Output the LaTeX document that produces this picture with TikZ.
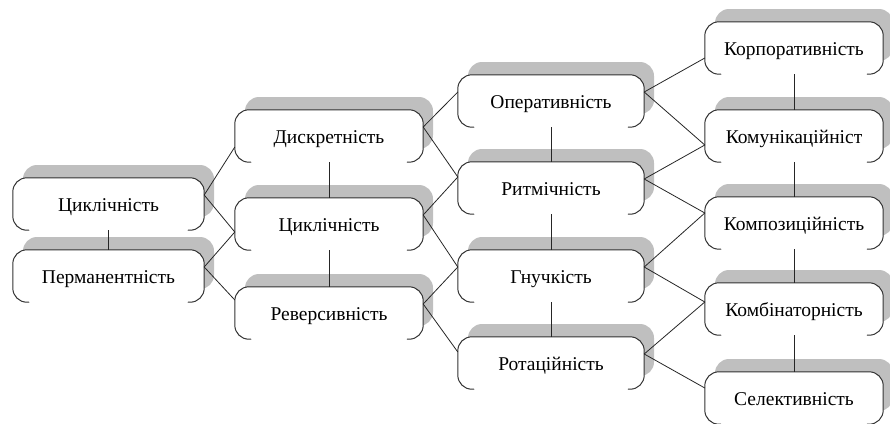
\documentclass[tikz,border=0pt]{standalone}
\usepackage{fontspec}
\setmainfont{Liberation Serif}
\usepackage{tikz}
\usetikzlibrary{calc,positioning,arrows,shadows}
\tikzstyle{blk}   = [rectangle, rounded corners=14pt, minimum height=52pt, inner sep=0pt, text height=18pt, text depth=3pt, fill=white, general shadow={fill=black!25, shadow xshift=10pt, shadow yshift=13pt}, font=\fontsize{19.5}{21}\selectfont]
\tikzstyle{colA}  = [blk, minimum width=191pt]
\tikzstyle{colB}  = [blk, minimum width=188pt]
\tikzstyle{colC}  = [blk, minimum width=186pt]
\tikzstyle{colD}  = [blk, minimum width=178pt]
\tikzstyle{rim}   = [draw=black!80, line width=1pt, rounded corners=14pt, line cap=round]
\tikzstyle{link}  = [draw=black!85, line width=0.8pt]

\begin{document}
\begin{tikzpicture}[x=1pt,y=-1pt]
		\useasboundingbox (0,0) rectangle (890,423);

		% first column
		\node[colA] (cyk)  at (108.5,204) {Циклічність};
		\node[colA] (perm) at (108.5,276) {Перманентність};

		% second column
		\node[colB] (dys)  at (329,136) {Дискретність};
		\node[colB] (cykb) at (329,224) {Циклічність};
		\node[colB] (rev)  at (329,313) {Реверсивність};

		% third column
		\node[colC] (oper) at (551,101) {Оперативність};
		\node[colC] (rytm) at (551,188) {Ритмічність};
		\node[colC] (gnu)  at (551,276) {Гнучкість};
		\node[colC] (rot)  at (551,363) {Ротаційність};

		% fourth column
		\node[colD] (korp) at (794,48)  {Корпоративність};
		\node[colD] (komu) at (794,136) {Комунікаційніст};
		\node[colD] (kmpz) at (794,223) {Композиційність};
		\node[colD] (kmb)  at (794,309) {Комбінаторність};
		\node[colD] (sel)  at (794,398) {Селективність};

		% open bottoms
		\foreach \n in {cyk,perm,dys,cykb,rev,oper,rytm,gnu,rot,korp,komu,kmpz,kmb,sel}
			\draw[rim] ([xshift=16pt]\n.south west) -- (\n.south west) -- (\n.north west) -- (\n.north east) -- (\n.south east) -- ([xshift=-16pt]\n.south east);

		% vertical links
		\foreach \a/\b in {cyk/perm,dys/cykb,cykb/rev,oper/rytm,rytm/gnu,gnu/rot,korp/komu,komu/kmpz,kmpz/kmb,kmb/sel}
			\draw[link] (\a.south) -- (\b.north);

		% cross links
		\foreach \a/\b/\s in {cyk/dys/-11,cyk/cykb/-8,perm/cykb/-8,perm/rev/13,dys/oper/9,dys/rytm/11,cykb/rytm/11,cykb/gnu/9,rev/gnu/9,rev/rot/11,oper/korp/-10,oper/komu/-9,rytm/komu/-9,rytm/kmpz/10,gnu/kmpz/10,gnu/kmb/7,rot/kmb/7,rot/sel/10}
			\draw[link] ([yshift=9pt]\a.east) -- ([yshift=\s pt]\b.west);
	\end{tikzpicture}
\end{document}
